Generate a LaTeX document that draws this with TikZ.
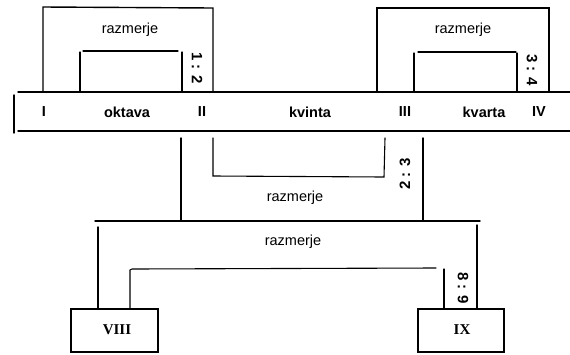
\documentclass[tikz,border=0pt]{standalone}
\usepackage{fontspec}
\setmainfont{Liberation Sans}
\newfontfamily\romfont{Liberation Serif}
\begin{document}
\begin{tikzpicture}[x=1pt,y=-1pt,
  ln/.style={line width=1.4pt,line cap=round},
  thin/.style={line width=1.1pt,line cap=round},
  lbl/.style={font=\fontsize{14.5}{17}\selectfont\bfseries,inner sep=0pt},
  rz/.style={font=\fontsize{14.5}{17}\selectfont,inner sep=0pt},
  ratio/.style={font=\fontsize{15}{17}\selectfont\bfseries,inner sep=0pt},
  romlbl/.style={font=\fontsize{15}{17}\selectfont\romfont\bfseries,inner sep=0pt}]
\useasboundingbox (0,0) rectangle (570,354);
% band
\draw[ln] (18,92) -- (570,92);
\draw[ln] (18,131) -- (570,131);
\draw[ln] (14,95) -- (14,133);
% band labels
\node[lbl] (I) at (44,112) {I};
\node[lbl] (okt) at (127,112) {oktava};
\node[lbl] (II) at (202,112) {II};
\node[lbl] (kvi) at (310,112) {kvinta};
\node[lbl] (III) at (405,112) {III};
\node[lbl] (kva) at (484,112) {kvarta};
\node[lbl] (IV) at (539,112) {IV};
% top left bracket
\draw[ln] (43,91) -- (43,7) -- (213,8) -- (213,91);
\draw[thin] (80,91) -- (80,52);
\draw[thin] (83,51) -- (178,51);
\draw[thin] (182,52) -- (182,91);
\node[rz] (r1) at (130,30) {razmerje};
\node[ratio,rotate=-90] (q1) at (197,68) {1 : 2};
% top right bracket
\draw[ln] (377,91) -- (377,8) -- (549,8) -- (549,91);
\draw[thin] (414,91) -- (414,53);
\draw[thin] (418,52) -- (516,52);
\draw[thin] (517,53) -- (517,91);
\node[rz] (r2) at (463,30) {razmerje};
\node[ratio,rotate=-90] (q2) at (532,70) {3 : 4};
% middle bracket
\draw[ln] (181,138) -- (181,221);
\draw[ln] (423,138) -- (423,221);
\draw[thin] (213,138) -- (213,176) -- (384,177) -- (385,138);
\node[ratio,rotate=90] (q3) at (405,174) {2 : 3};
\node[rz] (r3) at (295,198) {razmerje};
% lower bracket
\draw[ln] (95,221) -- (480,221);
\draw[ln] (98,227) -- (98,308);
\draw[ln] (477,225) -- (477,308);
\draw[thin] (130,308) -- (130,270) -- (132,269) -- (436,268);
\draw[thin] (444,269) -- (444,308);
\node[rz] (r4) at (293,242) {razmerje};
\node[ratio,rotate=-90] (q4) at (463,288) {8 : 9};
% boxes
\draw[ln] (71,309) rectangle (158,352);
\node[romlbl] (VIII) at (117,330) {VIII};
\draw[ln] (418,309) rectangle (504,352);
\node[romlbl] (IX) at (462,330) {IX};
\end{tikzpicture}
\end{document}
